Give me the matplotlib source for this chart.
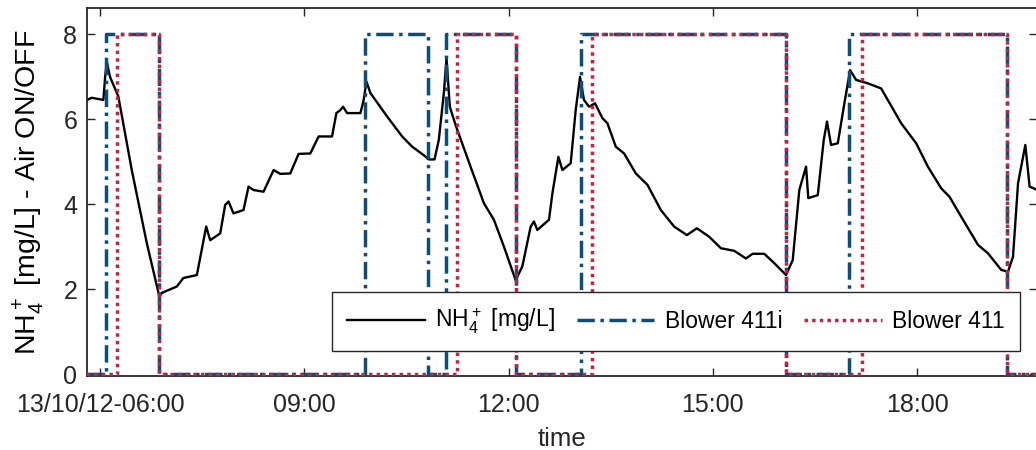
import matplotlib
matplotlib.use("Agg")
import matplotlib.pyplot as plt

plt.rcParams['font.family'] = ['Liberation Sans', 'DejaVu Sans']
plt.rcParams['mathtext.fontset'] = 'custom'
plt.rcParams['mathtext.rm'] = 'Liberation Sans'

# NH4+ signal (hours of day, mg/L)
nh4_t = [5.809, 5.878, 6.049, 6.074, 6.099, 6.147, 6.269, 6.466, 6.687, 6.872,
         6.907, 7.128, 7.224, 7.422, 7.559, 7.618, 7.765, 7.838, 7.887, 7.960,
         8.107, 8.181, 8.254, 8.401, 8.549, 8.647, 8.794, 8.916, 9.088, 9.210,
         9.407, 9.471, 9.529, 9.569, 9.628, 9.824, 9.872, 9.912, 9.971, 10.216,
         10.437, 10.584, 10.753, 10.826, 10.912, 10.975, 11.049, 11.088, 11.137, 11.221,
         11.441, 11.637, 11.784, 11.931, 12.103, 12.201, 12.324, 12.372, 12.422, 12.593,
         12.643, 12.731, 12.790, 12.912, 12.985, 13.049, 13.107, 13.181, 13.269, 13.378,
         13.451, 13.574, 13.696, 13.868, 14.040, 14.235, 14.431, 14.618, 14.765, 14.946,
         15.118, 15.313, 15.485, 15.584, 15.754, 15.901, 16.074, 16.172, 16.269, 16.368,
         16.401, 16.540, 16.628, 16.676, 16.735, 16.834, 16.931, 17.015, 17.103, 17.275,
         17.471, 17.765, 17.985, 18.157, 18.353, 18.475, 18.647, 18.893, 19.040, 19.235,
         19.334, 19.407, 19.481, 19.588, 19.651, 19.765]
nh4_v = [6.46, 6.51, 6.46, 6.98, 7.36, 7.00, 6.54, 4.81, 3.09, 1.83,
         1.92, 2.07, 2.27, 2.34, 3.48, 3.16, 3.32, 3.99, 4.07, 3.79,
         3.87, 4.42, 4.34, 4.30, 4.81, 4.72, 4.73, 5.19, 5.20, 5.60,
         5.60, 6.15, 6.22, 6.30, 6.15, 6.15, 6.46, 6.89, 6.62, 6.07,
         5.60, 5.36, 5.16, 5.06, 5.06, 5.52, 6.62, 7.44, 6.30, 5.87,
         4.89, 4.03, 3.64, 3.01, 2.22, 2.54, 3.48, 3.60, 3.40, 3.64,
         4.26, 5.12, 4.81, 4.97, 6.22, 7.00, 6.46, 6.30, 6.38, 6.03,
         5.91, 5.36, 5.20, 4.73, 4.46, 3.87, 3.48, 3.28, 3.44, 3.24,
         2.97, 2.91, 2.73, 2.84, 2.84, 2.62, 2.34, 2.69, 4.34, 4.89,
         4.15, 4.22, 5.52, 5.95, 5.40, 5.44, 6.38, 7.16, 6.93, 6.85,
         6.73, 5.91, 5.44, 4.89, 4.38, 4.18, 3.71, 3.05, 2.85, 2.46,
         2.42, 2.77, 4.50, 5.40, 4.42, 4.34]

# blower switching times (hours) and states (0 = off, 8 = on)
b411i_t = [5.80, 6.09, 6.09, 6.87, 6.87, 9.89, 9.89, 10.81, 10.81, 11.08, 11.08,
           12.11, 12.11, 13.06, 13.06, 16.08, 16.08, 17.00, 17.00, 19.32, 19.32, 19.80]
b411i_v = [0, 0, 8, 8, 0, 0, 8, 8, 0, 0, 8,
           8, 0, 0, 8, 8, 0, 0, 8, 8, 0, 0]
b411_t = [5.80, 6.25, 6.25, 6.87, 6.87, 11.24, 11.24, 12.11, 12.11, 13.23, 13.23,
          16.08, 16.08, 17.19, 17.19, 19.32, 19.32, 19.80]
b411_v = [0, 0, 8, 8, 0, 0, 8, 8, 0, 0, 8,
          8, 0, 0, 8, 8, 0, 0]

xticks = [6, 9, 12, 15, 18]
xticklabels = ['13/10/12-06:00', '09:00', '12:00', '15:00', '18:00']
yticks = [0, 2, 4, 6, 8]

blue = '#0a4f7c'
red = '#c8203f'

fig = plt.figure(figsize=(10.36, 4.5), dpi=100)
ax = fig.add_axes([0.084, 0.164, 0.917, 0.818])

ax.plot(nh4_t, nh4_v, color='black', lw=1.7, label='NH$_4^+$ [mg/L]', zorder=2)
ax.plot(b411i_t, b411i_v, color=blue, lw=2.5, linestyle=(0, (5, 1.6, 1, 1.6)),
        label='Blower 411i', zorder=3)
ax.plot(b411_t, b411_v, color=red, lw=2.5, linestyle=(0, (1, 1.2)),
        label='Blower 411', zorder=4)

ax.set_xlim(5.809, 19.76)
ax.set_ylim(-0.04, 8.62)
ax.set_xticks(xticks)
ax.set_xticklabels(xticklabels)
ax.set_yticks(yticks)
ax.tick_params(direction='in', length=6, width=1, labelsize=18,
               colors='#262626', top=True, right=True)
ax.tick_params(axis='x', pad=12)
ax.tick_params(axis='y', pad=7)
for s in ax.spines.values():
    s.set_linewidth(1.3)
    s.set_color('#262626')

ax.set_xlabel('time', fontsize=18.5, color='#262626', labelpad=7)
ax.set_ylabel('NH$_4^+$ [mg/L] - Air ON/OFF', fontsize=20.5, color='black', labelpad=12)

leg = ax.legend(ncol=3, loc='lower right', bbox_to_anchor=(0.982, 0.068),
                borderaxespad=0, fontsize=16.5, handlelength=3.4,
                columnspacing=0.95, handletextpad=0.45, fancybox=False,
                framealpha=1, edgecolor='#262626', borderpad=0.65)
leg.get_frame().set_linewidth(1)

fig.savefig('out.png', dpi=100)
